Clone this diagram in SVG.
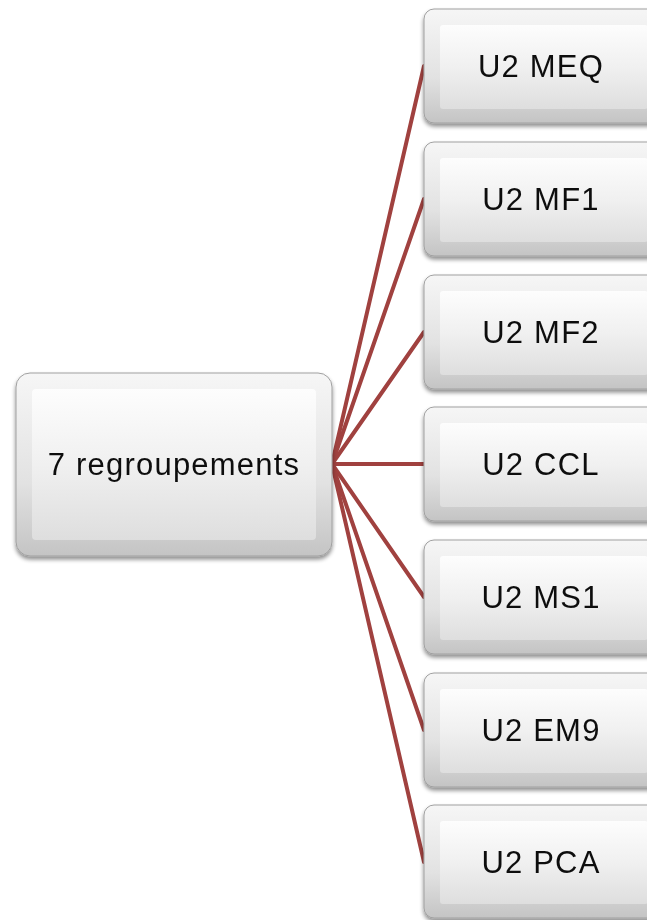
<svg xmlns="http://www.w3.org/2000/svg" width="647" height="920" viewBox="0 0 647 920">
<defs>
<linearGradient id="outer" x1="0" y1="0" x2="0" y2="1">
<stop offset="0" stop-color="#f6f6f6"/>
<stop offset="0.6" stop-color="#e2e2e2"/>
<stop offset="1" stop-color="#c4c4c4"/>
</linearGradient>
<linearGradient id="inner" x1="0" y1="0" x2="0" y2="1">
<stop offset="0" stop-color="#fdfdfd"/>
<stop offset="0.5" stop-color="#f0f0f0"/>
<stop offset="1" stop-color="#dedede"/>
</linearGradient>
<filter id="sh" x="-10%" y="-10%" width="120%" height="130%">
<feGaussianBlur in="SourceAlpha" stdDeviation="2"/>
<feOffset dx="0" dy="3"/>
<feComponentTransfer><feFuncA type="linear" slope="0.45"/></feComponentTransfer>
<feMerge><feMergeNode/><feMergeNode in="SourceGraphic"/></feMerge>
</filter>
</defs>
<style>
.o{fill:url(#outer);stroke:#a0a0a0;stroke-width:1}
.i{fill:url(#inner)}
.t{font-family:"Liberation Sans",Arial,sans-serif;font-size:31px;letter-spacing:1.2px;fill:#111;text-anchor:middle}
.c{stroke:#A0413F;stroke-width:4;fill:none;stroke-linecap:round}
</style>
<g id="connectors">
<line class="c" x1="332" y1="464" x2="424" y2="66"/>
<line class="c" x1="332" y1="464" x2="424" y2="199"/>
<line class="c" x1="332" y1="464" x2="424" y2="332"/>
<line class="c" x1="332" y1="464" x2="424" y2="464"/>
<line class="c" x1="332" y1="464" x2="424" y2="597"/>
<line class="c" x1="332" y1="464" x2="424" y2="730"/>
<line class="c" x1="332" y1="464" x2="424" y2="862"/>
</g>
<g id="center" filter="url(#sh)">
<rect class="o" x="16" y="373" width="316" height="183" rx="14"/>
<rect class="i" x="32" y="389" width="284" height="151" rx="4"/>
<text class="t" x="174" y="475">7 regroupements</text>
</g>
<g id="n1" filter="url(#sh)">
<rect class="o" x="424" y="9" width="240" height="114" rx="10"/>
<rect class="i" x="440" y="25" width="208" height="84" rx="3"/>
<text class="t" x="541" y="77">U2 MEQ</text>
</g>
<g id="n2" filter="url(#sh)">
<rect class="o" x="424" y="142" width="240" height="114" rx="10"/>
<rect class="i" x="440" y="158" width="208" height="84" rx="3"/>
<text class="t" x="541" y="210">U2 MF1</text>
</g>
<g id="n3" filter="url(#sh)">
<rect class="o" x="424" y="275" width="240" height="114" rx="10"/>
<rect class="i" x="440" y="291" width="208" height="84" rx="3"/>
<text class="t" x="541" y="343">U2 MF2</text>
</g>
<g id="n4" filter="url(#sh)">
<rect class="o" x="424" y="407" width="240" height="114" rx="10"/>
<rect class="i" x="440" y="423" width="208" height="84" rx="3"/>
<text class="t" x="541" y="475">U2 CCL</text>
</g>
<g id="n5" filter="url(#sh)">
<rect class="o" x="424" y="540" width="240" height="114" rx="10"/>
<rect class="i" x="440" y="556" width="208" height="84" rx="3"/>
<text class="t" x="541" y="608">U2 MS1</text>
</g>
<g id="n6" filter="url(#sh)">
<rect class="o" x="424" y="673" width="240" height="114" rx="10"/>
<rect class="i" x="440" y="689" width="208" height="84" rx="3"/>
<text class="t" x="541" y="741">U2 EM9</text>
</g>
<g id="n7" filter="url(#sh)">
<rect class="o" x="424" y="805" width="240" height="113" rx="10"/>
<rect class="i" x="440" y="821" width="208" height="83" rx="3"/>
<text class="t" x="541" y="873">U2 PCA</text>
</g>
</svg>
